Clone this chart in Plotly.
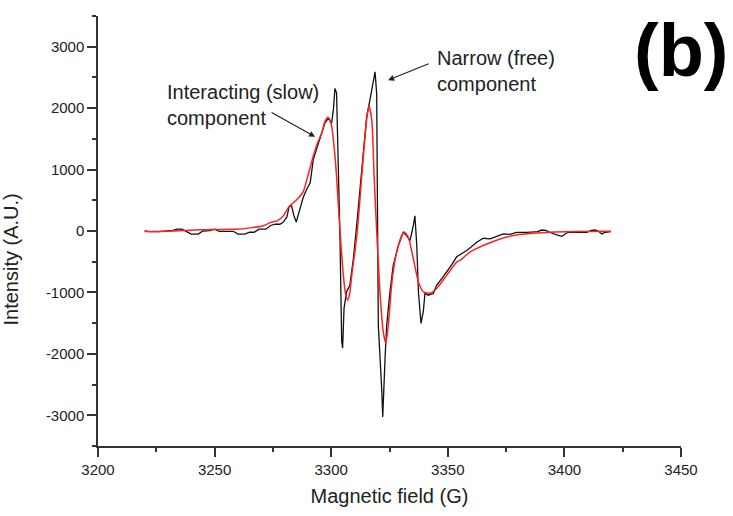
import plotly.graph_objects as go

# Experimental spectrum (black)
field_exp = [3220, 3222, 3226, 3229, 3232, 3234, 3236, 3238, 3240, 3243, 3245, 3248, 3250, 3252,
             3255, 3258, 3260, 3263, 3265, 3267, 3269, 3272, 3274, 3276, 3278, 3279.5, 3281, 3282,
             3283, 3284, 3285, 3286.6, 3288, 3289.5, 3291, 3292.3, 3293.5, 3295.2, 3297.3, 3298.8,
             3300.2, 3301.0, 3301.6, 3302.3, 3303, 3303.8, 3304.5, 3304.9, 3305.5, 3306.6, 3308,
             3309.5, 3310.9, 3312.3, 3313.8, 3315.2, 3316.6, 3318, 3318.8, 3319.5, 3319.8, 3320.2,
             3321.7, 3322.1, 3323.1, 3323.8, 3325.2, 3326.6, 3328.8, 3330.9, 3332.3, 3333.8, 3335.2,
             3335.9, 3336.7, 3337.4, 3338.5, 3339.5, 3340.2, 3341.6, 3343.8, 3345.2, 3347.4, 3349.5,
             3351.5, 3353.8, 3356, 3358.1, 3360, 3362.4, 3365.2, 3368.1, 3371, 3373.8, 3376.7,
             3379.5, 3383.8, 3386.7, 3388.5, 3390.3, 3392, 3393.1, 3395, 3396.7, 3398.9, 3400.5,
             3401.5, 3405, 3409.6, 3411.5, 3413.1, 3414.5, 3416, 3417.5, 3418.8, 3420]
intensity_exp = [0, -10, -10, -5, 10, 30, 30, -10, -50, -50, 0, 5, 30, -5,
                 -5, -5, -50, -50, -20, -20, 30, 30, 90, 110, 110, 145, 230, 400,
                 409, 250, 145, 355, 550, 680, 786, 1163, 1300, 1486, 1756, 1837,
                 1756, 2000, 2321, 2245, 1163, -180, -1800, -1906, -1260, -990, -883,
                 -452, 86, 625, 1271, 1863, 2132, 2456, 2590, 2240, 630, -1530,
                 -2600, -3026, -2068, -1530, -990, -560, -237, -21, -75, -156, 86,
                 247, -237, -990, -1503, -1310, -1018, -1045, -1018, -883, -775, -667,
                 -560, -420, -371, -318, -260, -183, -118, -129, -86, -48, -54,
                 -21, -21, -21, -10, 16, 10, -11, -40, -65, -86, -40,
                 -21, -21, -21, 10, 16, 0, -48, -20, -11, -10]

# Fitted / simulated spectrum (red)
field_fit = [3220, 3230, 3244, 3250, 3261, 3266, 3271, 3274, 3277, 3279.5, 3282, 3285, 3288, 3290,
             3292.3, 3294, 3295.9, 3297.3, 3298.5, 3299.3, 3300.2, 3301.3, 3302.3, 3303, 3303.8,
             3305.2, 3306.2, 3307.1, 3308, 3308.8, 3310, 3311.2, 3313.1, 3314.2, 3315.2, 3316.2,
             3317.4, 3318.4, 3319.5, 3320.9, 3322.3, 3323.4, 3324.5, 3325.9, 3327, 3328.1, 3330.2,
             3331.4, 3333.1, 3335.2, 3337.4, 3339.5, 3341, 3342.7, 3345.2, 3349.5, 3353.8, 3355.2,
             3359.5, 3365.2, 3372.4, 3379.5, 3386.7, 3393.8, 3405, 3420]
intensity_fit = [-10, -5, 20, 25, 32, 55, 86, 140, 170, 250, 400, 500, 640, 900,
                 1216, 1420, 1594, 1780, 1853, 1820, 1701, 1350, 893, 450, 0,
                 -722, -1030, -1126, -1000, -722, -380, 0, 893, 1400, 1809, 2035,
                 1809, 893, 0, -990, -1636, -1826, -1530, -883, -560, -344, -75,
                 -21, -102, -452, -829, -990, -1010, -1010, -937, -722, -506, -480,
                 -344, -237, -129, -65, -38, -21, -10, -5]

x_ticks = [3200, 3250, 3300, 3350, 3400, 3450]
y_ticks = [-3000, -2000, -1000, 0, 1000, 2000, 3000]
y_tick_labels = [str(v) for v in y_ticks]

FONT = "Liberation Sans, Arial, sans-serif"
TXT = "#222222"

fig = go.Figure()
fig.add_trace(go.Scatter(x=field_exp, y=intensity_exp, mode="lines",
                         line=dict(color="#111111", width=1.3), showlegend=False))
fig.add_trace(go.Scatter(x=field_fit, y=intensity_fit, mode="lines",
                         line=dict(color="#ff2020", width=1.5, shape="spline", smoothing=0.6),
                         showlegend=False))

axis_common = dict(showline=True, linecolor="#333333", linewidth=1.5, ticks="outside",
                   ticklen=9, tickwidth=1.5, tickcolor="#333333", showgrid=False,
                   zeroline=False, mirror=False,
                   tickfont=dict(family=FONT, size=15, color=TXT))

fig.update_xaxes(range=[3200, 3450], tickvals=x_ticks,
                 minor=dict(dtick=25, tick0=3200, ticks="outside", ticklen=4,
                            tickwidth=1.5, tickcolor="#333333"),
                 title=dict(text="Magnetic field (G)", font=dict(family=FONT, size=20, color=TXT),
                            standoff=12),
                 **axis_common)
fig.update_yaxes(range=[-3500, 3500], tickvals=y_ticks, ticktext=y_tick_labels,
                 minor=dict(dtick=500, tick0=-3500, ticks="outside", ticklen=4,
                            tickwidth=1.5, tickcolor="#333333"),
                 **axis_common)

annotations = [
    dict(text="Intensity (A.U.)", xref="paper", yref="paper", x=-0.149, y=0.434,
         textangle=-90, showarrow=False, xanchor="center", yanchor="middle",
         font=dict(family=FONT, size=20, color=TXT)),
    dict(text="<b>(b)</b>", xref="paper", yref="paper", x=1.0017, y=0.919,
         showarrow=False, xanchor="center", yanchor="middle",
         font=dict(family=FONT, size=74, color="#000000")),
    dict(text="Narrow (free)<br>component", xref="paper", yref="paper", x=0.578, y=0.871,
         showarrow=False, xanchor="left", yanchor="middle", align="left",
         font=dict(family=FONT, size=20, color=TXT)),
    dict(text="Interacting (slow)<br>component", xref="paper", yref="paper", x=0.115, y=0.794,
         showarrow=False, xanchor="left", yanchor="middle", align="left",
         font=dict(family=FONT, size=20, color=TXT)),
    dict(text="", x=3324.4, y=2456, xref="x", yref="y", ax=42, ay=-17,
         showarrow=True, arrowhead=2, arrowsize=1, arrowwidth=1.2, arrowcolor=TXT),
    dict(text="", x=3293.1, y=1535, xref="x", yref="y", ax=-45, ay=-25,
         showarrow=True, arrowhead=2, arrowsize=1, arrowwidth=1.2, arrowcolor=TXT),
]

fig.update_layout(width=733, height=516, margin=dict(l=98, r=52, t=16, b=67),
                  paper_bgcolor="white", plot_bgcolor="white",
                  annotations=annotations, showlegend=False)

fig.write_html("out.html")
